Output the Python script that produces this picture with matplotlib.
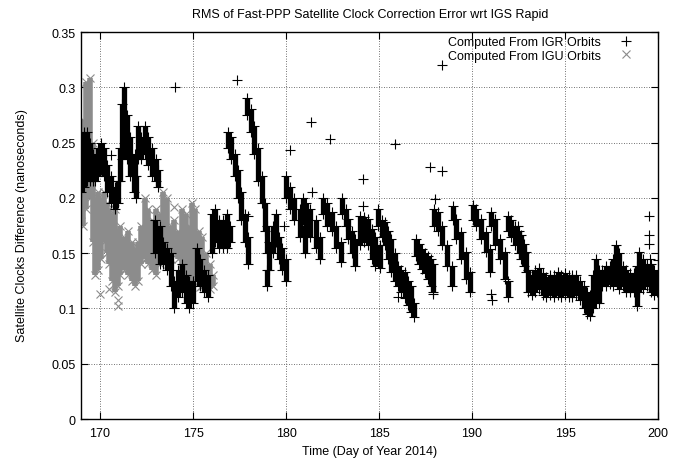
import matplotlib
matplotlib.use("Agg")
import matplotlib.pyplot as plt
from matplotlib.lines import Line2D
from matplotlib.ticker import FuncFormatter, MultipleLocator

plt.rcParams['font.family'] = ['Liberation Sans', 'DejaVu Sans']

# RMS bands of the IGR-orbit clocks: day, band bottom, band top (ns)
igr_day = [169.0, 169.15, 169.3, 169.45, 169.6, 169.75, 169.9, 170.05, 170.2, 170.4,
           170.6, 170.8, 170.95, 171.05, 171.2, 171.3, 171.45, 171.6, 171.8, 171.95,
           171.9, 172.05, 172.2, 172.4, 172.6, 172.8, 173.0, 173.1,
           172.95, 173.2, 173.4, 173.6, 173.8, 174.0, 174.2, 174.4, 174.6, 174.8,
           175.0, 175.2, 175.4, 175.6, 175.8,
           176.0, 176.2, 176.4, 176.6, 176.8, 177.0,
           176.9, 177.05, 177.25, 177.4, 177.6, 177.8, 177.95,
           177.9, 178.1, 178.3, 178.5, 178.7, 178.85, 179.0,
           178.95, 179.1, 179.3, 179.45, 179.6, 179.8, 180.0,
           180.0, 180.2, 180.45, 180.75, 181.0,
           180.9, 181.1, 181.3, 181.6, 181.85,
           182.0, 182.2, 182.45, 182.7, 182.95,
           183.0, 183.2, 183.35, 183.55, 183.7,
           183.95, 184.2, 184.4, 184.6, 184.8, 185.05,
           184.95, 185.15, 185.3, 185.5, 185.66, 185.85, 186.02, 186.2, 186.38, 186.55,
           186.74, 186.9,
           187.0, 187.15, 187.3, 187.45, 187.63, 187.8, 187.9,
           187.95, 188.15, 188.4, 188.67, 188.94,
           189.0, 189.15, 189.39, 189.66, 189.9,
           190.05, 190.23, 190.5, 190.77, 190.95,
           191.0, 191.22, 191.49, 191.76, 191.93,
           191.95, 192.1, 192.3, 192.5, 192.65, 192.8, 192.92,
           193.0, 193.2, 193.4, 193.6, 193.8, 194.0, 194.2, 194.4, 194.6, 194.8,
           195.0, 195.2, 195.4, 195.6, 195.8, 196.0, 196.2, 196.35, 196.5, 196.65,
           196.8, 197.0, 197.2, 197.4, 197.6, 197.75, 197.9, 198.1, 198.3, 198.5,
           198.7, 198.85, 199.0, 199.2, 199.4, 199.6, 199.8, 199.95]
igr_lo = [0.205, 0.21, 0.215, 0.215, 0.215, 0.215, 0.22, 0.225, 0.22, 0.205,
          0.195, 0.19, 0.195, 0.215, 0.235, 0.245, 0.235, 0.22, 0.205, 0.2,
          0.22, 0.235, 0.235, 0.24, 0.23, 0.22, 0.215, 0.21,
          0.15, 0.14, 0.14, 0.135, 0.12, 0.1, 0.11, 0.115, 0.105, 0.1,
          0.105, 0.125, 0.12, 0.115, 0.11,
          0.15, 0.16, 0.155, 0.155, 0.155, 0.16,
          0.245, 0.235, 0.22, 0.2, 0.18, 0.16, 0.14,
          0.275, 0.26, 0.24, 0.215, 0.195, 0.17, 0.15,
          0.12, 0.135, 0.15, 0.16, 0.145, 0.135, 0.125,
          0.2, 0.19, 0.18, 0.165, 0.15,
          0.18, 0.17, 0.165, 0.155, 0.145,
          0.185, 0.175, 0.17, 0.155, 0.142,
          0.185, 0.175, 0.163, 0.15, 0.138,
          0.157, 0.16, 0.157, 0.145, 0.138, 0.137,
          0.175, 0.165, 0.157, 0.145, 0.133, 0.125, 0.12, 0.115, 0.109, 0.103,
          0.097, 0.092,
          0.147, 0.14, 0.136, 0.132, 0.127, 0.12, 0.115,
          0.175, 0.17, 0.157, 0.138, 0.12,
          0.18, 0.163, 0.145, 0.127, 0.115,
          0.18, 0.175, 0.163, 0.151, 0.133,
          0.175, 0.157, 0.145, 0.127, 0.11,
          0.17, 0.165, 0.157, 0.15, 0.145, 0.138, 0.133,
          0.115, 0.112, 0.115, 0.118, 0.112, 0.11, 0.112, 0.11, 0.112, 0.11,
          0.112, 0.11, 0.11, 0.112, 0.108, 0.1, 0.095, 0.093, 0.1, 0.105,
          0.105, 0.12, 0.12, 0.122, 0.12, 0.125, 0.118, 0.12, 0.115, 0.115,
          0.115, 0.102, 0.115, 0.118, 0.12, 0.115, 0.112, 0.115]
igr_hi = [0.245, 0.26, 0.26, 0.25, 0.24, 0.235, 0.245, 0.25, 0.245, 0.23,
          0.22, 0.21, 0.215, 0.245, 0.285, 0.30, 0.275, 0.255, 0.235, 0.22,
          0.24, 0.265, 0.255, 0.265, 0.255, 0.245, 0.235, 0.225,
          0.18, 0.175, 0.16, 0.155, 0.15, 0.125, 0.135, 0.14, 0.13, 0.125,
          0.125, 0.155, 0.145, 0.135, 0.13,
          0.185, 0.19, 0.18, 0.18, 0.185, 0.175,
          0.26, 0.255, 0.24, 0.225, 0.205, 0.185, 0.165,
          0.29, 0.28, 0.265, 0.245, 0.22, 0.195, 0.175,
          0.135, 0.16, 0.175, 0.185, 0.165, 0.155, 0.145,
          0.22, 0.21, 0.2, 0.19, 0.175,
          0.2, 0.195, 0.19, 0.18, 0.165,
          0.2, 0.195, 0.187, 0.175, 0.16,
          0.2, 0.19, 0.181, 0.17, 0.163,
          0.184, 0.183, 0.181, 0.172, 0.165, 0.157,
          0.19, 0.18, 0.178, 0.17, 0.163, 0.15, 0.138, 0.135, 0.133, 0.125,
          0.12, 0.105,
          0.163, 0.158, 0.154, 0.15, 0.147, 0.145, 0.14,
          0.19, 0.187, 0.175, 0.157, 0.138,
          0.193, 0.181, 0.169, 0.151, 0.133,
          0.194, 0.19, 0.181, 0.169, 0.154,
          0.187, 0.181, 0.163, 0.151, 0.125,
          0.184, 0.18, 0.175, 0.17, 0.166, 0.158, 0.151,
          0.135, 0.13, 0.135, 0.137, 0.132, 0.128, 0.13, 0.13, 0.133, 0.13,
          0.132, 0.13, 0.13, 0.13, 0.125, 0.12, 0.115, 0.112, 0.13, 0.145,
          0.135, 0.135, 0.138, 0.138, 0.145, 0.157, 0.15, 0.138, 0.135, 0.132,
          0.132, 0.138, 0.151, 0.145, 0.14, 0.14, 0.135, 0.13]

# isolated IGR points away from the bands
igr_out_day = [174.03, 177.38, 181.36, 180.2, 182.37, 184.16, 185.88, 187.74, 188.37, 188.37,
               199.5, 199.5, 199.5, 170.6, 181.38, 179.9, 187.99, 184.14, 192.47, 199.55,
               200.0, 191.0, 191.05, 187.9, 186.0, 177.95]
igr_out_val = [0.30, 0.307, 0.269, 0.243, 0.253, 0.217, 0.249, 0.228, 0.224, 0.32,
               0.184, 0.166, 0.158, 0.239, 0.205, 0.175, 0.199, 0.193, 0.175, 0.145,
               0.144, 0.113, 0.108, 0.113, 0.11, 0.184]

# RMS bands of the IGU-orbit clocks
igu_day = [169.0, 169.1, 169.25, 169.45, 169.6, 169.75, 169.9, 170.05, 170.2, 170.35,
           170.5, 170.65, 170.8, 170.95, 171.1, 171.3, 171.5, 171.7, 171.9, 172.05,
           172.2, 172.4, 172.6, 172.8, 173.0, 173.2, 173.4, 173.6, 173.8, 174.0,
           174.2, 174.4, 174.6, 174.8, 174.95, 175.1, 175.3, 175.5, 175.7, 175.9,
           176.05]
igu_lo = [0.185, 0.175, 0.19, 0.2, 0.16, 0.13, 0.135, 0.145, 0.16, 0.15,
          0.14, 0.125, 0.115, 0.12, 0.13, 0.135, 0.13, 0.125, 0.12, 0.125,
          0.14, 0.145, 0.14, 0.135, 0.13, 0.14, 0.15, 0.145, 0.145, 0.15,
          0.145, 0.135, 0.13, 0.13, 0.125, 0.13, 0.125, 0.12, 0.12, 0.118,
          0.12]
igu_hi = [0.25, 0.27, 0.305, 0.308, 0.25, 0.2, 0.205, 0.2, 0.205, 0.195,
          0.19, 0.185, 0.19, 0.17, 0.175, 0.165, 0.17, 0.16, 0.155, 0.16,
          0.175, 0.2, 0.19, 0.18, 0.19, 0.185, 0.205, 0.2, 0.175, 0.18,
          0.17, 0.19, 0.185, 0.175, 0.195, 0.19, 0.17, 0.165, 0.15, 0.14,
          0.13]

igu_out_day = [169.98, 170.47, 170.98, 170.95, 175.36, 174.0]
igu_out_val = [0.113, 0.118, 0.102, 0.108, 0.119, 0.192]

black = '#000000'
grey = '#8c8c8c'

fig = plt.figure(figsize=(6.9, 4.64), dpi=100)
ax = fig.add_axes([0.118, 0.0948, 0.8357, 0.834])

# IGU first so the IGR points stay visible on top
ax.vlines(igu_day, igu_lo, igu_hi, color=grey, lw=4.0, zorder=2)
ax.plot(igu_day + igu_day + igu_out_day, igu_lo + igu_hi + igu_out_val, ls='none',
        marker='x', ms=5.5, mew=0.8, color=grey, zorder=2)

ax.vlines(igr_day, igr_lo, igr_hi, color=black, lw=3.8, zorder=3)
ax.plot(igr_day + igr_day + igr_out_day, igr_lo + igr_hi + igr_out_val, ls='none',
        marker='+', ms=6.5, mew=0.8, color=black, zorder=3)

ax.set_xlim(169, 200)
ax.set_ylim(0, 0.35)
ax.xaxis.set_major_locator(MultipleLocator(5))
ax.yaxis.set_major_locator(MultipleLocator(0.05))
ax.yaxis.set_major_formatter(FuncFormatter(lambda v, p: '%g' % round(v, 2)))
ax.set_xticks([170, 175, 180, 185, 190, 195, 200])
ax.tick_params(direction='in', length=5, width=0.8, top=True, right=True,
               labelsize=9)
ax.tick_params(axis='x', pad=6)
ax.tick_params(axis='y', pad=4)
ax.grid(True, color='#444444', lw=0.6, ls=(0, (1, 2)))
for s in ax.spines.values():
    s.set_linewidth(1.0)

fig.text(0.536, 1 - 15 / 464, 'RMS of Fast-PPP Satellite Clock Correction Error wrt IGS Rapid',
         ha='center', va='center', fontsize=9)
fig.text(0.536, 1 - 452 / 464, 'Time (Day of Year 2014)', ha='center', va='center', fontsize=9)
fig.text(22 / 690, 1 - 226 / 464, 'Satellite Clocks Difference (nanoseconds)', rotation=90,
         ha='center', va='center', fontsize=9)

handles = [Line2D([], [], ls='none', marker='+', ms=6.5, mew=0.8, color=black),
           Line2D([], [], ls='none', marker='x', ms=5.5, mew=0.8, color=grey)]
ax.legend(handles, ['Computed From IGR Orbits', 'Computed From IGU Orbits'],
          loc='upper right', bbox_to_anchor=(0.975, 1.012), frameon=False, markerfirst=False,
          fontsize=9, handlelength=1.5, handletextpad=1.2, labelspacing=0.12, borderpad=0.2)

fig.savefig('out.png', dpi=100)
